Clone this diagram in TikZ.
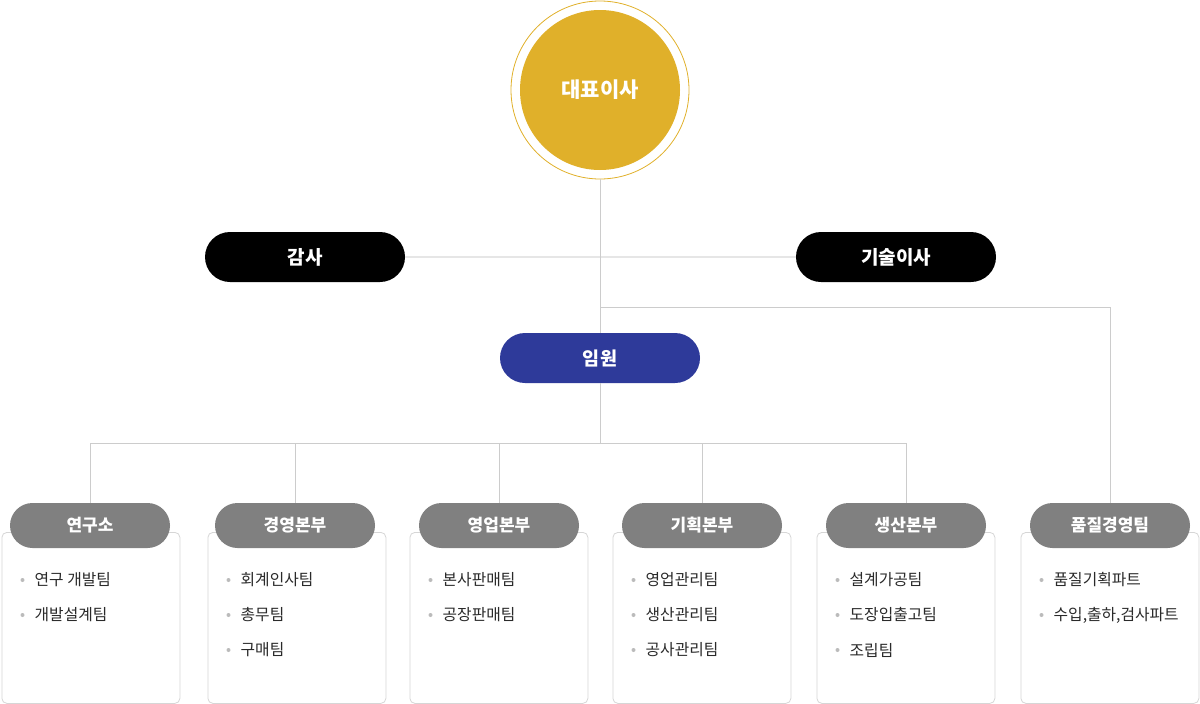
\documentclass[tikz,border=0pt]{standalone}
\usepackage{fontspec}
\setmainfont{Noto Sans CJK KR}
\definecolor{gold}{HTML}{E0B02A}
\definecolor{navy}{HTML}{2E3A9A}
\definecolor{hdr}{HTML}{808080}
\definecolor{lne}{HTML}{CCCCCC}
\definecolor{lnelight}{HTML}{E6E6E6}
\definecolor{boxln}{HTML}{D6D6D6}
\definecolor{itm}{HTML}{2A2A2A}
\definecolor{dot}{HTML}{BBBBBB}
\tikzset{
  conn/.style={draw=lne, line width=1pt},
  pill/.style={minimum width=200pt, minimum height=50pt, rounded corners=25pt, inner sep=0pt, text=white, font=\fontsize{19}{21}\selectfont\bfseries},
  hdrpill/.style={fill=hdr, minimum width=160pt, minimum height=45pt, rounded corners=22.5pt, inner sep=0pt, text=white, font=\fontsize{17}{19}\selectfont\bfseries},
  listbox/.style={draw=boxln, line width=0.8pt, fill=white, rounded corners=5pt, minimum width=178pt, minimum height=171pt, inner sep=0pt, anchor=north west},
  item/.style={anchor=west, inner sep=0pt, text=itm, font=\fontsize{15.8}{18}\selectfont},
  bul/.style={circle, fill=dot, inner sep=0pt, minimum size=4pt}
}
\newcommand{\unititems}[3]{%
  \foreach \t [count=\i] in {#3} {
    \node[bul] (#1dot\i) at (#2+21, 545+35*\i) {};
    \node[item] (#1item\i) at (#2+33, 545+35*\i) {\t};
  }%
}
\begin{document}
\begin{tikzpicture}[x=1pt,y=-1pt]
\useasboundingbox (0,0) rectangle (1200,704);
% CEO
\node[circle, draw=gold, line width=0.8pt, minimum size=178pt, inner sep=0pt] (ceoring) at (600,90) {};
\node[circle, fill=gold, minimum size=160pt, inner sep=0pt, text=white, font=\fontsize{21}{23}\selectfont\bfseries] (ceo) at (600,90) {대표이사};
% second level
\node[pill, fill=black] (audit) at (305,257) {감사};
\node[pill, fill=black] (tech) at (896,257) {기술이사};
\node[pill, fill=navy, font=\fontsize{18.5}{21}\selectfont\bfseries] (exec) at (600,358) {임원};
\coordinate (j1) at (600,307);
\coordinate (bus) at (600,443);
% boxes
\node[listbox] (box1) at (1.5,532) {};
\node[listbox] (box2) at (207.5,532) {};
\node[listbox] (box3) at (409.5,532) {};
\node[listbox] (box4) at (612.5,532) {};
\node[listbox] (box5) at (816.5,532) {};
\node[listbox] (box6) at (1020.5,532) {};
% headers
\node[hdrpill] (h1) at (90,525.5) {연구소};
\node[hdrpill] (h2) at (295,525.5) {경영본부};
\node[hdrpill] (h3) at (499,525.5) {영업본부};
\node[hdrpill] (h4) at (702,525.5) {기획본부};
\node[hdrpill] (h5) at (906,525.5) {생산본부};
\node[hdrpill] (h6) at (1110,525.5) {품질경영팀};
% connectors
\draw[draw=lnelight, line width=1.5pt] (audit.east) -- (tech.west);
\draw[conn] (ceoring.south) -- (exec.north);
\draw[conn] (j1) -| (h6.north);
\draw[conn] (exec.south) -- (bus);
\draw[conn] (h1.north |- bus) -- (h5.north |- bus);
\foreach \h in {h1,h2,h3,h4,h5} {
  \draw[conn] (\h.north) -- (\h.north |- bus);
}
% items
\unititems{a}{1.5}{연구 개발팀,개발설계팀}
\unititems{b}{207.5}{회계인사팀,총무팀,구매팀}
\unititems{c}{409.5}{본사판매팀,공장판매팀}
\unititems{d}{612.5}{영업관리팀,생산관리팀,공사관리팀}
\unititems{e}{816.5}{설계가공팀,도장입출고팀,조립팀}
\unititems{f}{1020.5}{품질기획파트,{수입,출하,검사파트}}
\end{tikzpicture}
\end{document}
